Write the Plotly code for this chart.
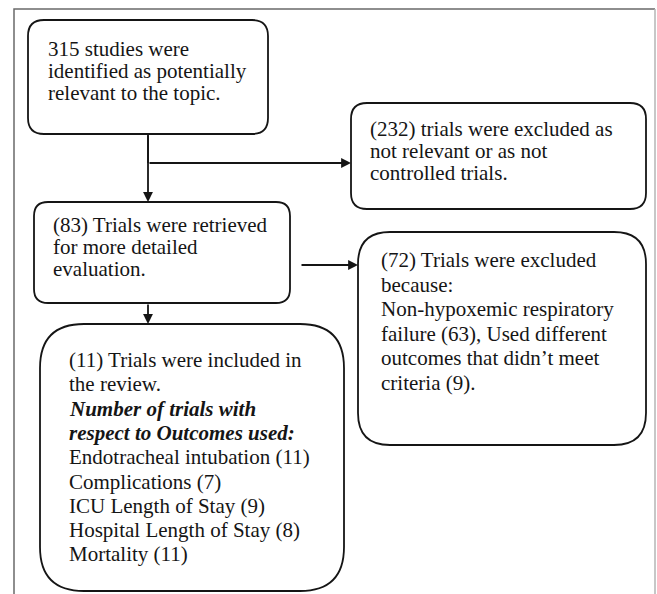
import plotly.graph_objects as go

W, H = 657, 594

# box texts (one list per box, one entry per line)
identified_lines = ["315 studies were", "identified as potentially", "relevant to the topic."]
excluded_first_lines = ["(232) trials were excluded as", "not relevant or as not", "controlled trials."]
retrieved_lines = ["(83) Trials were retrieved", "for more detailed", "evaluation."]
excluded_second_lines = ["(72) Trials were excluded", "because:", "Non-hypoxemic respiratory",
                         "failure (63), Used different", "outcomes that didn\u2019t meet", "criteria (9)."]
included_lines = ["(11) Trials were included in", "the review.",
                  "<b><i>Number of trials with</i></b>", "<b><i>respect to Outcomes used:</i></b>",
                  "Endotracheal intubation (11)", "Complications (7)", "ICU Length of Stay (9)",
                  "Hospital Length of Stay (8)", "Mortality (11)"]

# boxes: (x0, y0, x1, y1, radius, text x, first line centre, line step, lines)
boxes = [
    (28, 20, 268, 134, 16, 46, 48.5, 22.0, identified_lines),
    (351, 103, 646, 209, 16, 368, 129, 22.0, excluded_first_lines),
    (34, 202, 290, 303, 14, 51, 225, 22.0, retrieved_lines),
    (358, 232, 646, 445, 32, 379, 260, 24.6, excluded_second_lines),
    (40, 324, 344, 591, 44, 67, 360, 24.3, included_lines),
]

FONT = "Liberation Serif, Times New Roman, serif"
SIZE = 21
INK = "#151515"


def rounded(x0, y0, x1, y1, r):
    return (f"M {x0+r},{y0} L {x1-r},{y0} Q {x1},{y0} {x1},{y0+r} "
            f"L {x1},{y1-r} Q {x1},{y1} {x1-r},{y1} L {x0+r},{y1} "
            f"Q {x0},{y1} {x0},{y1-r} L {x0},{y0+r} Q {x0},{y0} {x0+r},{y0} Z")


fig = go.Figure()
shapes = []
annotations = []

# outer frame (left/top darker, right edge lighter)
shapes.append(dict(type="path", path=f"M 14,{H+5} L 14,9 L 655,9",
                   line=dict(color="#6a6a6a", width=1.5)))
shapes.append(dict(type="line", x0=655, y0=9, x1=655, y1=H + 5,
                   line=dict(color="#b5b5b5", width=1.5)))

for x0, y0, x1, y1, r, tx, ty, step, lines in boxes:
    shapes.append(dict(type="path", path=rounded(x0, y0, x1, y1, r),
                       line=dict(color=INK, width=1.8), fillcolor="white"))
    for i, line in enumerate(lines):
        annotations.append(dict(x=tx, y=ty + i * step, xref="x", yref="y",
                                xanchor="left", yanchor="middle", align="left",
                                showarrow=False, text=line,
                                font=dict(family=FONT, size=SIZE, color=INK)))

# connector line from first box down, branching right
shapes.append(dict(type="line", x0=148, y0=134, x1=148, y1=163, line=dict(color=INK, width=1.8)))

arrows = [
    ((148, 134), (148, 202)),
    ((148, 163), (351, 163)),
    ((300, 265), (358, 265)),
    ((148, 303), (148, 324)),
]
for (sx, sy), (ex, ey) in arrows:
    annotations.append(dict(x=ex, y=ey, ax=sx, ay=sy, xref="x", yref="y", axref="x", ayref="y",
                            text="", showarrow=True, arrowhead=2, arrowsize=1.1,
                            arrowwidth=1.8, arrowcolor=INK, standoff=0))

fig.update_layout(
    width=W, height=H,
    margin=dict(l=0, r=0, t=0, b=0),
    paper_bgcolor="white", plot_bgcolor="white",
    xaxis=dict(range=[0, W], visible=False, fixedrange=True),
    yaxis=dict(range=[H, 0], visible=False, fixedrange=True),
    shapes=shapes, annotations=annotations,
    showlegend=False,
)

fig.write_html("out.html", config={"displayModeBar": False},
               post_script="document.body.style.margin='0';")
